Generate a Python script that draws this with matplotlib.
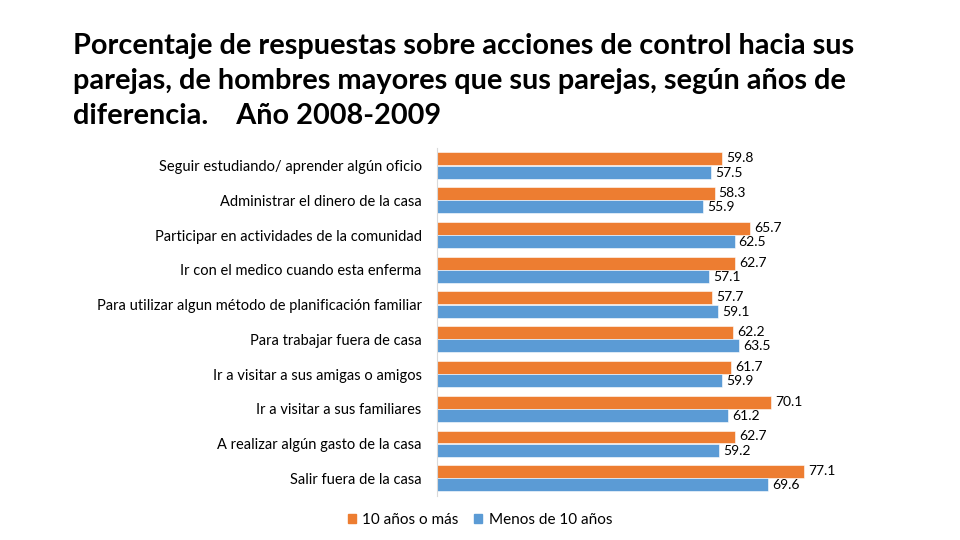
import matplotlib
matplotlib.use("Agg")
import matplotlib.pyplot as plt
import numpy as np
from matplotlib.patches import Patch

categories = [
    "Seguir estudiando/ aprender algún oficio",
    "Administrar el dinero de la casa",
    "Participar en actividades de la comunidad",
    "Ir con el medico cuando esta enferma",
    "Para utilizar algun método de planificación familiar",
    "Para trabajar fuera de casa",
    "Ir a visitar a sus amigas o amigos",
    "Ir a visitar a sus familiares",
    "A realizar algún gasto de la casa",
    "Salir fuera de la casa",
]
mas_10 = [59.8, 58.3, 65.7, 62.7, 57.7, 62.2, 61.7, 70.1, 62.7, 77.1]
menos_10 = [57.5, 55.9, 62.5, 57.1, 59.1, 63.5, 59.9, 61.2, 59.2, 69.6]
series_names = ["10 años o más", "Menos de 10 años"]
title = ("Porcentaje de respuestas sobre acciones de control hacia sus\n"
         "parejas, de hombres mayores que sus parejas, según años de\n"
         "diferencia.    Año 2008-2009")

ORANGE = "#ED7D31"
BLUE = "#5B9BD5"
FONT = "Lato"

fig = plt.figure(figsize=(9.6, 5.4), dpi=100)
ax = fig.add_axes([437 / 960, 1 - 495.7 / 540, 476 / 960, 347.6 / 540])

y = np.arange(len(categories))
h = 0.37
ax.barh(y - h / 2 - 0.005, mas_10, height=h, color=ORANGE, edgecolor="white", linewidth=0.4)
ax.barh(y + h / 2 + 0.005, menos_10, height=h, color=BLUE, edgecolor="white", linewidth=0.4)

for yi, v in zip(y, mas_10):
    ax.annotate(f"{v:.1f}", (v, yi - h / 2), xytext=(3, 0.5), textcoords="offset points",
                va="center", ha="left", fontsize=10, family=FONT, color="#000000")
for yi, v in zip(y, menos_10):
    ax.annotate(f"{v:.1f}", (v, yi + h / 2), xytext=(3, -0.5), textcoords="offset points",
                va="center", ha="left", fontsize=10, family=FONT, color="#000000")

ax.set_xlim(0, 100)
ax.set_ylim(len(categories) - 0.5, -0.5)
ax.set_yticks(y)
ax.set_yticklabels(categories, fontsize=10.5, family=FONT)
ax.tick_params(axis="y", length=0, pad=11)
ax.set_xticks([])
for s in ["top", "right", "bottom"]:
    ax.spines[s].set_visible(False)
ax.spines["left"].set_color("#D9D9D9")
ax.spines["left"].set_linewidth(0.8)

fig.text(73 / 960, 1 - 33 / 540, title, fontsize=20.8, family=FONT, weight="bold",
         ha="left", va="top", linespacing=1.42)

handles = [Patch(color=ORANGE), Patch(color=BLUE)]
fig.legend(handles, series_names, loc="center", bbox_to_anchor=(480 / 960, 1 - 520 / 540),
           ncol=2, frameon=False, prop={"family": FONT, "size": 11},
           handlelength=0.55, handleheight=0.55, handletextpad=0.4, columnspacing=1.0)

fig.savefig("out.png", dpi=100)
